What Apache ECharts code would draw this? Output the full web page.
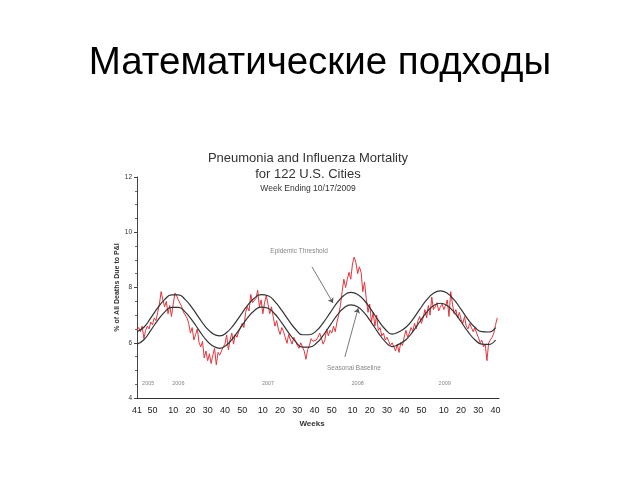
<!DOCTYPE html>
<html>
<head>
<meta charset="utf-8">
<script src="https://cdn.jsdelivr.net/npm/echarts@6/dist/echarts.min.js"></script>
<style>html,body{margin:0;padding:0;background:#fff;}#c{width:640px;height:480px;}</style>
</head>
<body>
<div id="c"></div>
<script>
// Week index 0 = week 41 of 2005
const tickWeeks = [0, 9, 21, 31, 41, 51, 61, 73, 83, 93, 103, 113, 125, 135, 145, 155, 165, 178, 188, 198, 208];
const tickLabels = ["41","50","10","20","30","40","50","10","20","30","40","50","10","20","30","40","50","10","20","30","40"];

const observed = [
  6.45, 6.55, 6.40, 6.60, 6.15, 6.45, 6.60, 6.50, 6.75, 6.65,
  6.90, 6.80, 7.10, 7.40, 7.85, 7.55, 7.30, 7.50, 7.05, 7.35,
  6.95, 7.40, 7.80, 7.70, 7.55, 7.50, 7.30, 7.10, 7.15, 6.90,
  6.70, 6.35, 6.55, 6.10, 6.30, 6.50, 6.00, 5.85, 6.05, 5.45,
  5.70, 5.35, 5.60, 5.25, 5.55, 5.80, 5.20, 5.65, 5.55, 5.70,
  5.85, 5.95, 6.28, 5.75, 6.10, 6.35, 5.95, 6.30, 6.20, 6.40,
  6.45, 6.70, 6.55, 7.10, 7.30, 7.15, 7.75, 7.45, 7.40, 7.60,
  7.90, 7.30, 7.55, 7.05, 7.45, 7.70, 7.40, 7.05, 7.30, 6.95,
  6.60, 6.80, 6.50, 6.30, 6.55, 6.40, 6.20, 5.98, 6.30, 6.10,
  5.95, 6.20, 6.05, 5.90, 5.80, 6.00, 5.85, 5.70, 5.40, 5.75,
  5.90, 6.15, 6.05, 6.00, 6.10, 6.20, 6.35, 6.15, 5.95, 6.10,
  6.50, 6.25, 6.45, 6.35, 6.60, 6.40, 6.75, 7.00, 7.35, 7.85,
  8.30, 8.00, 8.30, 8.55, 8.30, 8.85, 9.10, 8.90, 8.50, 8.75,
  8.55, 7.85, 8.20, 7.60, 7.10, 7.40, 6.75, 7.10, 6.60, 7.00,
  6.45, 6.55, 6.25, 6.35, 6.10, 6.20, 6.05, 5.90, 6.00, 5.85,
  5.70, 5.95, 5.65, 6.00, 5.90, 6.20, 6.45, 6.20, 6.35, 6.55,
  6.40, 6.70, 6.50, 6.80, 6.95, 6.70, 6.90, 7.20, 6.90, 7.35,
  7.00, 7.65, 7.20, 7.30, 7.45, 7.15, 7.30, 7.40, 7.20, 7.35,
  7.55, 6.95, 7.85, 7.40, 7.05, 7.20, 6.90, 7.10, 6.85, 6.70,
  6.95, 6.60, 6.50, 6.70, 6.55, 6.40, 6.55, 6.35, 6.20, 6.00,
  6.10, 5.85, 5.95, 5.35, 6.00, 5.95, 6.20, 6.35, 6.65, 6.90
];

const curveWeeks = [0,4,8,12,16,20,24,28,32,36,40,44,48,52,56,60,64,68,72,76,80,84,88,92,96,100,104,108,112,116,120,124,128,132,136,140,144,148,152,156,160,164,168,172,176,180,184,188,192,196,200,204,208];
const baseline = [5.95,6.11,6.45,6.81,7.11,7.28,7.28,7.11,6.81,6.45,6.11,5.88,5.80,5.92,6.19,6.54,6.89,7.16,7.29,7.25,7.04,6.72,6.36,6.04,5.84,5.84,5.98,6.27,6.63,6.99,7.26,7.37,7.30,7.07,6.73,6.36,6.04,5.86,5.95,6.11,6.40,6.76,7.10,7.34,7.43,7.34,7.10,6.76,6.40,6.11,5.95,5.94,6.10];
const threshold = [6.40,6.56,6.90,7.26,7.56,7.73,7.73,7.56,7.26,6.90,6.56,6.33,6.25,6.37,6.64,6.99,7.34,7.61,7.74,7.70,7.49,7.17,6.81,6.49,6.29,6.29,6.43,6.72,7.08,7.44,7.71,7.82,7.75,7.52,7.18,6.81,6.49,6.31,6.40,6.56,6.85,7.21,7.55,7.79,7.88,7.79,7.55,7.21,6.85,6.56,6.40,6.39,6.55];

const yearLabels = ["2005","2006","2007","2008","2009"];
const yearWeeks = [6.5, 24, 76, 128, 178.5];

const chart = echarts.init(document.getElementById('c'), null, {renderer: 'canvas'});
const font = '"Liberation Sans", Arial, sans-serif';

const pairs = (xs, ys) => ys.map((v, i) => [xs[i], v]);
const obsData = observed.map((v, i) => [i, v]);

chart.setOption({
  backgroundColor: '#fff',
  animation: false,
  textStyle: {fontFamily: font},
  title: [
    {text: 'Математические подходы', left: 320, top: 44, textAlign: 'center', padding: 0,
     textStyle: {fontFamily: font, fontSize: 38.5, fontWeight: 'normal', color: '#000'}},
    {text: 'Pneumonia and Influenza Mortality', left: 308, top: 152, textAlign: 'center', padding: 0,
     textStyle: {fontFamily: font, fontSize: 13, fontWeight: 'normal', color: '#333'}},
    {text: 'for 122 U.S. Cities', left: 308, top: 168, textAlign: 'center', padding: 0,
     textStyle: {fontFamily: font, fontSize: 13, fontWeight: 'normal', color: '#333'}},
    {text: 'Week Ending 10/17/2009', left: 308, top: 184, textAlign: 'center', padding: 0,
     textStyle: {fontFamily: font, fontSize: 8.5, fontWeight: 'normal', color: '#333'}}
  ],
  grid: {left: 137, right: 141, top: 177, bottom: 82},
  xAxis: {
    type: 'value', min: 0, max: 210,
    name: 'Weeks', nameLocation: 'middle', nameGap: 22,
    nameTextStyle: {fontFamily: font, fontSize: 8, fontWeight: 'bold', color: '#333', padding: [0, 12, 0, 0]},
    axisLine: {show: true, lineStyle: {color: '#333', width: 1}},
    axisTick: {show: false},
    splitLine: {show: false},
    axisLabel: {
      customValues: tickWeeks,
      formatter: function (v) { const k = tickWeeks.indexOf(v); return k >= 0 ? tickLabels[k] : ''; },
      fontFamily: font, fontSize: 9, color: '#222', margin: 8
    }
  },
  yAxis: {
    type: 'value', min: 4, max: 12, interval: 2,
    name: '% of All Deaths Due to P&I', nameLocation: 'middle', nameGap: 16, nameRotate: 90,
    nameMoveOverlap: false,
    nameTextStyle: {fontFamily: font, fontSize: 7, fontWeight: 'bold', color: '#333'},
    axisLine: {show: true, lineStyle: {color: '#444', width: 1}},
    axisTick: {show: true, length: 3, lineStyle: {color: '#444'}},
    minorTick: {show: true, splitNumber: 4, length: 2, lineStyle: {color: '#666'}},
    splitLine: {show: false},
    axisLabel: {fontFamily: font, fontSize: 6.5, color: '#333', margin: 5}
  },
  series: [
    {
      type: 'line', data: obsData, showSymbol: false, symbol: 'none',
      lineStyle: {color: '#e0363f', width: 1}, z: 2
    },
    {
      type: 'line', data: pairs(curveWeeks, baseline), smooth: true, symbol: 'none',
      lineStyle: {color: '#333', width: 1.2}, z: 3,
      markLine: {
        silent: true, symbol: ['none', 'arrow'], symbolSize: 5,
        lineStyle: {color: '#555', width: 0.8, type: 'solid'},
        label: {show: false},
        data: [
          [{coord: [101.5, 8.75]}, {coord: [113.7, 7.44]}],
          [{coord: [120.6, 5.49]}, {coord: [128.3, 7.25]}]
        ]
      }
    },
    {
      type: 'line', data: pairs(curveWeeks, threshold), smooth: true, symbol: 'none',
      lineStyle: {color: '#333', width: 1.2}, z: 3
    },
    {
      type: 'scatter', symbolSize: 0, silent: true,
      data: yearLabels.map((t, i) => ({value: [yearWeeks[i], 4.53], name: t})),
      label: {show: true, position: 'inside', formatter: '{b}', fontFamily: font, fontSize: 5.5, color: '#666'}
    },
    {
      type: 'scatter', symbolSize: 0, silent: true,
      data: [
        {value: [94, 9.33], name: 'Epidemic Threshold'},
        {value: [125.8, 5.08], name: 'Seasonal Baseline'}
      ],
      label: {show: true, position: 'inside', formatter: '{b}', fontFamily: font, fontSize: 6.5, color: '#666'}
    }
  ]
});
</script>
</body>
</html>
